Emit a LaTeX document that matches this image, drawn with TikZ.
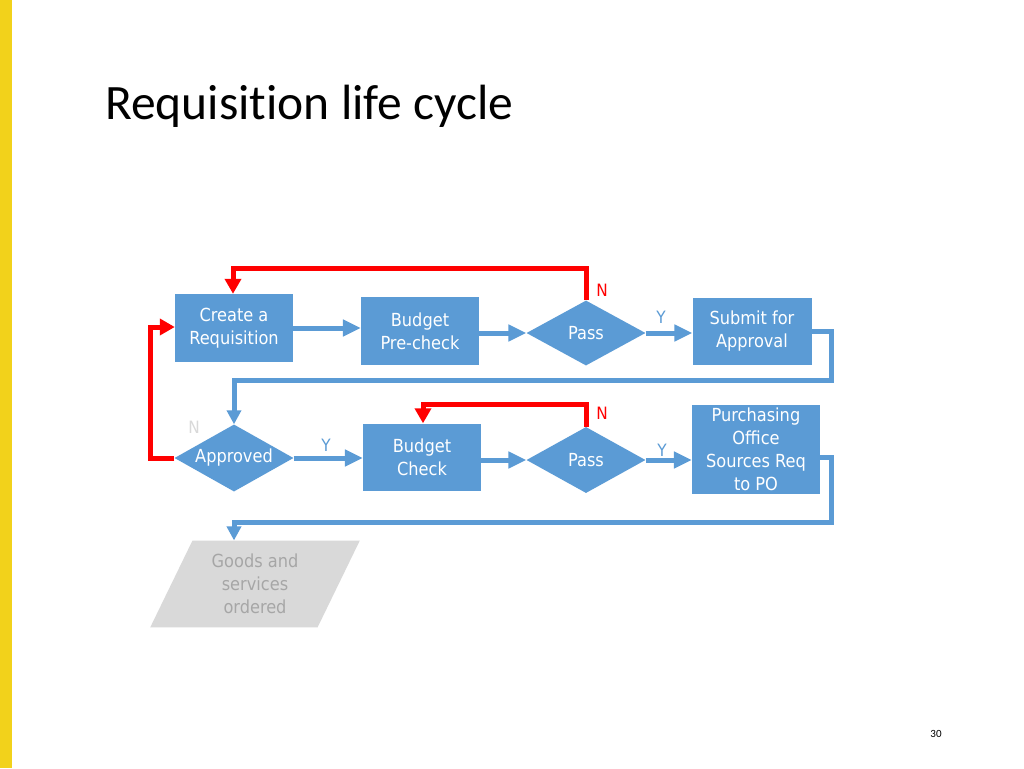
\documentclass[tikz,border=0pt]{standalone}
\usepackage{fontspec}
\setmainfont[Ligatures=NoCommon]{Carlito}
\newfontfamily\nodefont{DejaVu Sans Condensed}
\usetikzlibrary{arrows.meta,shapes.geometric}
\definecolor{bl}{HTML}{5B9BD5}
\definecolor{rd}{HTML}{FF0000}
\definecolor{yl}{HTML}{F2D21B}
\definecolor{gy}{HTML}{D9D9D9}
\definecolor{gt}{HTML}{A6A6A6}
\tikzset{
  box/.style={draw=none,fill=bl,text=white,align=center,inner sep=0pt,font=\nodefont\fontsize{18}{23}\selectfont},
  dia/.style={diamond,draw=none,fill=bl,text=white,inner sep=0pt,font=\nodefont\fontsize{18}{23}\selectfont,minimum width=119pt,minimum height=65pt},
  barrow/.style={draw=bl,line width=5pt,-{Triangle[length=18pt,width=16pt]}},
  rarrow/.style={draw=rd,line width=5pt,-{Triangle[length=15pt,width=16pt]}},
  bline/.style={draw=bl,line width=5pt,-{Triangle[length=14pt,width=14pt]}},
  lab/.style={font=\nodefont\fontsize{17}{18}\selectfont,inner sep=0pt},
}
\begin{document}
\begin{tikzpicture}[x=1pt,y=-1pt]
\useasboundingbox (0,0) rectangle (1024,768);
\fill[white] (0,0) rectangle (1024,768);
\fill[yl] (0,0) rectangle (12,768);
\node[anchor=base west,inner sep=0pt,font=\fontsize{49.5}{56}\selectfont] (title) at (105,119) {Requisition life cycle};
\node[anchor=base,inner sep=0pt,font=\fontsize{11}{13}\selectfont] (pg) at (936,737) {30};

% row 1
\node[box,minimum width=118pt,minimum height=68pt] (create) at (234,328) {Create a\\Requisition};
\node[box,minimum width=118pt,minimum height=68pt] (bpre) at (420,331) {Budget\\Pre-check};
\node[dia] (pass1) at (586,333) {\makebox[0pt]{Pass}};
\node[box,minimum width=119pt,minimum height=67pt] (submit) at (752,331) {Submit for\\Approval};

% row 2
\node[dia,minimum height=67pt] (appr) at (234,458) {\makebox[0pt]{Approved}};
\node[box,minimum width=118pt,minimum height=67pt] (bcheck) at (422,457) {Budget\\Check};
\node[dia,minimum height=66pt] (pass2) at (586,460) {\makebox[0pt]{Pass}};
\node[box,minimum width=128pt,minimum height=89pt] (purch) at (756,449) {Purchasing\\Office\\Sources Req\\to PO};

% goods
\node[trapezium,trapezium left angle=64,trapezium right angle=116,fill=gy,draw=none,inner sep=0pt,minimum height=82pt,minimum width=210pt,text=gt,align=center,font=\nodefont\fontsize{18}{23}\selectfont] (goods) at (255,584) {Goods and\\services\\ordered};

% blue connectors
\draw[barrow] (create.east) -- (bpre.west |- create.east);
\draw[barrow] (bpre.east |- pass1.west) -- (pass1.west);
\draw[barrow] (pass1.east) -- (submit.west |- pass1.east);
\draw[barrow] (appr.east) -- (bcheck.west |- appr.east);
\draw[barrow] (bcheck.east |- pass2.west) -- (pass2.west);
\draw[barrow] (pass2.east) -- (purch.west |- pass2.east);

\coordinate (s1) at (831,331);
\coordinate (s2) at (831,380);
\coordinate (s3) at (234,380);
\draw[bline] (submit.east) -- (s1) -- (s2) -- (s3) -- (appr.north);
\coordinate (p1) at (831,457);
\coordinate (p2) at (831,522);
\coordinate (p3) at (234,522);
\draw[bline] (purch.east |- p1) -- (p1) -- (p2) -- (p3) -- (p3 |- goods.north);

% red loops
\coordinate (r1) at (586,268);
\coordinate (r2) at (233,268);
\draw[rarrow] (pass1.north) -- (r1) -- (r2) -- (create.north -| r2);
\coordinate (r3) at (150,458);
\coordinate (r4) at (150,327);
\draw[rarrow] (appr.west) -- (r3) -- (r4) -- (create.west |- r4);
\coordinate (r5) at (586,404);
\coordinate (r6) at (423,404);
\draw[rarrow] (pass2.north) -- (r5) -- (r6) -- (bcheck.north -| r6);

% labels
\node[lab,text=rd] (n1) at (602,290) {N};
\node[lab,text=bl] (y1) at (661,317) {Y};
\node[lab,text=gy] (n2) at (194,427) {N};
\node[lab,text=bl] (y2) at (326,445) {Y};
\node[lab,text=rd] (n3) at (602,413) {N};
\node[lab,text=bl] (y3) at (662,450) {Y};
\end{tikzpicture}
\end{document}
